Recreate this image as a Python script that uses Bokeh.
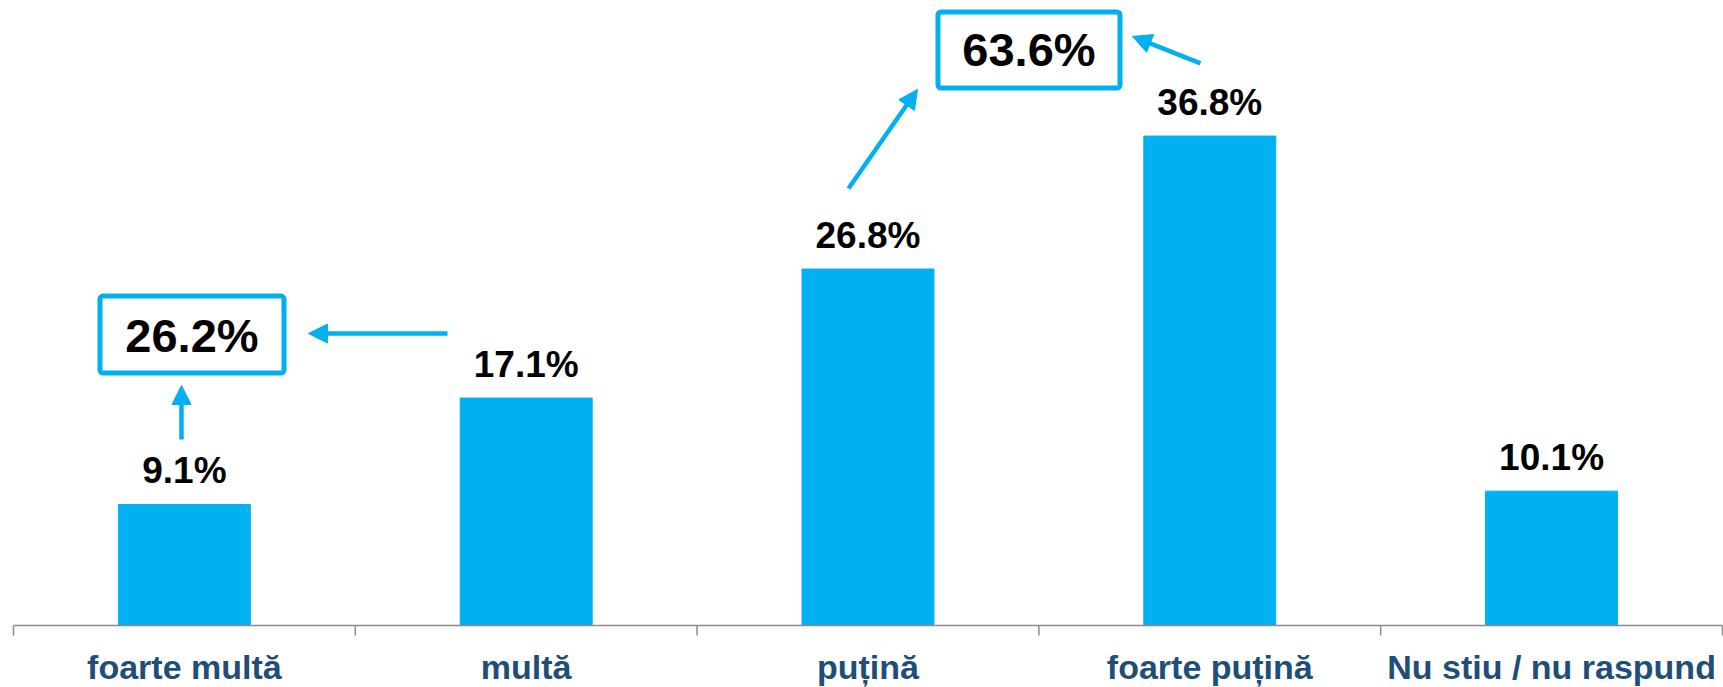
from bokeh.plotting import figure
from bokeh.models import ColumnDataSource, Range1d, BoxAnnotation, Arrow, NormalHead
from bokeh.core.properties import value
from bokeh.embed import file_html
from bokeh.resources import INLINE

# ---- data ----
categories = ["foarte multă", "multă", "puțină", "foarte puțină", "Nu stiu / nu raspund"]
values = [9.1, 17.1, 26.8, 36.8, 10.1]
value_labels = ["9.1%", "17.1%", "26.8%", "36.8%", "10.1%"]
summary_labels = ["26.2%", "63.6%"]

BAR = "#00B0F0"
LABEL = "#1F4E79"
AXIS = "#8c8c8c"
FONT = "Liberation Sans"

n = len(categories)
xs = list(range(n))
bounds = [i - 0.5 for i in range(n + 1)]
src = ColumnDataSource(dict(x=xs, top=values, lab=value_labels, cat=categories,
                            zero=[0] * n))

p = figure(width=1723, height=687, output_backend="svg", toolbar_location=None,
           title_location=None,
           x_range=Range1d(-0.538, 4.503), y_range=Range1d(-4.662, 46.99),
           min_border_left=0, min_border_right=0, min_border_top=0, min_border_bottom=0,
           x_axis_location=None, y_axis_location=None)
p.outline_line_color = None
p.xgrid.visible = False
p.ygrid.visible = False
p.background_fill_color = "white"
p.border_fill_color = "white"

p.vbar(x="x", top="top", width=0.386, bottom=0, color=BAR, source=src)
p.text(x="x", y="top", text="lab", source=src, y_offset=-34,
       text_align="center", text_baseline="middle",
       text_font=value(FONT), text_font_style="bold", text_font_size="37px",
       text_color="black")

# category axis: baseline, boundary ticks and labels
p.segment(x0=bounds[0], y0=0, x1=bounds[-1], y1=0, line_color=AXIS, line_width=1.5)
p.segment(x0=bounds, y0=[0] * len(bounds), x1=bounds, y1=[-0.752] * len(bounds),
          line_color=AXIS, line_width=1.5)
p.text(x="x", y="zero", text="cat", source=src, y_offset=42,
       text_align="center", text_baseline="middle",
       text_font=value(FONT), text_font_style="bold", text_font_size="34px",
       text_color=LABEL)

# summary boxes (layout in data units)
boxes = [(-0.2469, 0.2914, 24.77, 18.98), (2.2048, 2.7373, 46.13, 40.41)]
for l, r, t, b in boxes:
    p.add_layout(BoxAnnotation(left=l, right=r, top=t, bottom=b, fill_color=None,
                               line_color=BAR, line_alpha=1.0, line_width=5,
                               border_radius=3))
sum_src = ColumnDataSource(dict(x=[0.0222, 2.471], y=[21.77, 43.27], lab=summary_labels))
p.text(x="x", y="y", text="lab", source=sum_src, text_align="center", text_baseline="middle",
       text_font=value(FONT), text_font_style="bold", text_font_size="47px",
       text_color="black")

# arrows
arrows = [(-0.0085, 13.98, -0.0085, 18.05),
          (0.7698, 21.95, 0.3631, 21.95),
          (1.943, 32.86, 2.1448, 40.30),
          (2.9728, 42.26, 2.7738, 44.29)]
for x0, y0, x1, y1 in arrows:
    p.add_layout(Arrow(x_start=x0, y_start=y0, x_end=x1, y_end=y1,
                       line_color=BAR, line_width=4.5,
                       end=NormalHead(size=19, fill_color=BAR, line_color=BAR, line_width=1)))

open("out.html", "w").write(file_html(p, INLINE))
